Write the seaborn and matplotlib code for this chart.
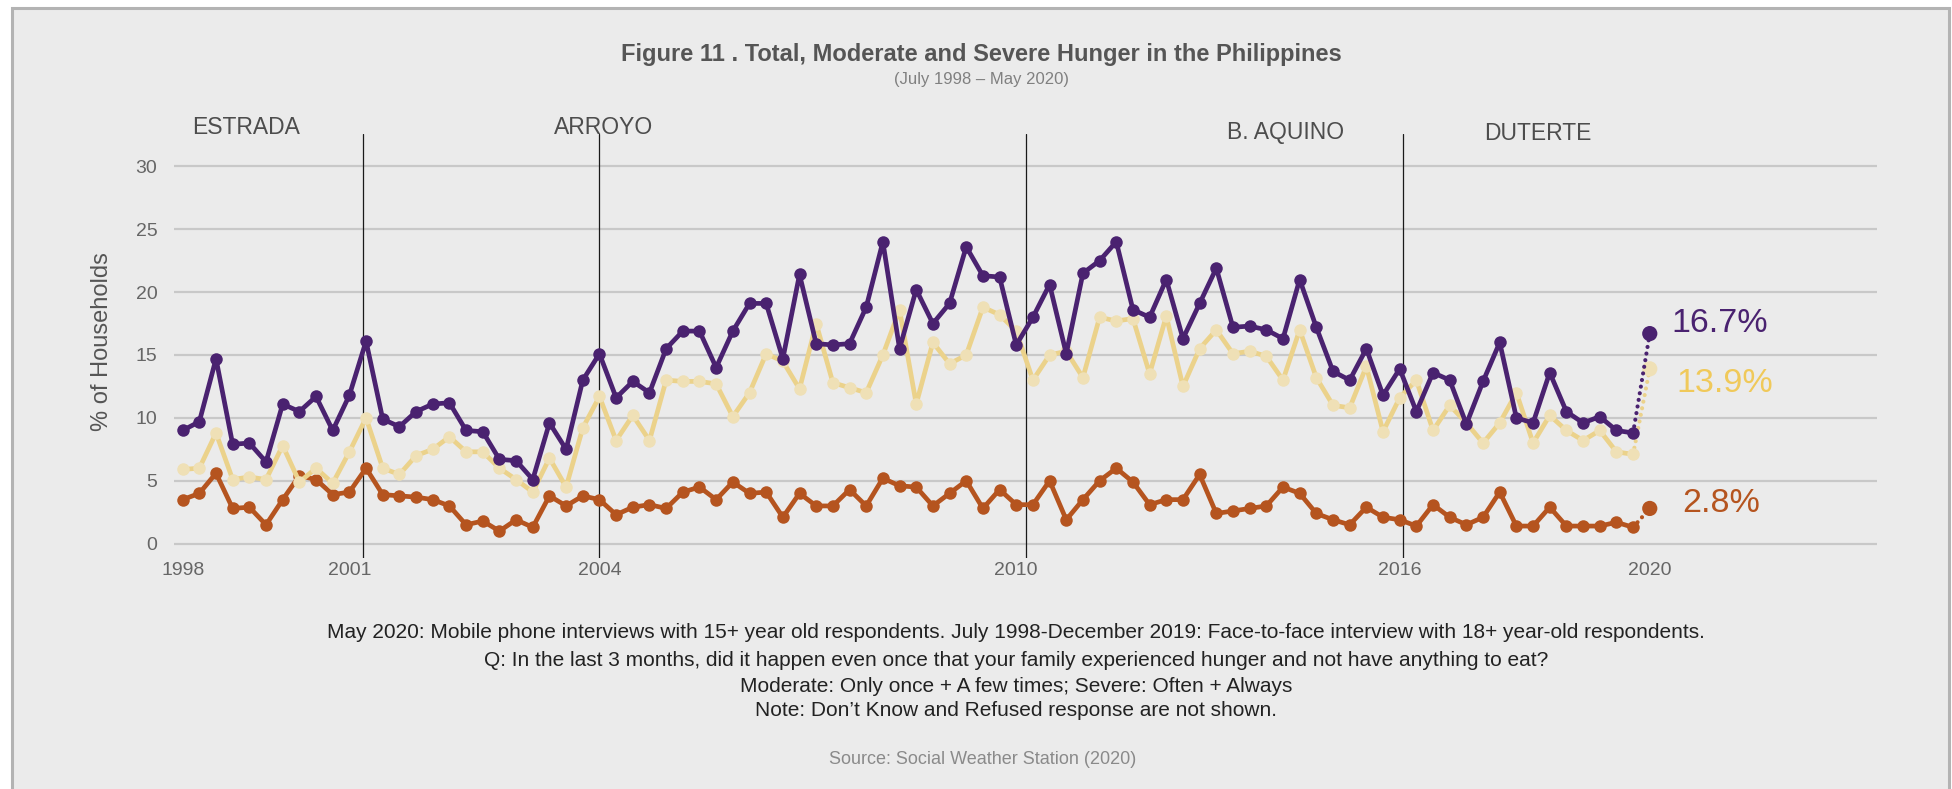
import numpy as np
import pandas as pd
import matplotlib
matplotlib.use("Agg")
import matplotlib.pyplot as plt
import seaborn as sns
from matplotlib.patches import Rectangle

# ---------------- data ----------------
total = [9.0, 9.7, 14.7, 7.9, 8.0, 6.5, 11.1, 10.5, 11.7, 9.0,
         11.8, 16.1, 9.9, 9.3, 10.5, 11.1, 11.2, 9.0, 8.9, 6.7,
         6.6, 5.1, 9.6, 7.5, 13.0, 15.1, 11.6, 12.9, 12.0, 15.5,
         16.9, 16.9, 14.0, 16.9, 19.1, 19.1, 14.7, 21.4, 15.9, 15.8,
         15.9, 18.8, 24.0, 15.5, 20.2, 17.5, 19.1, 23.6, 21.3, 21.2,
         15.8, 18.0, 20.6, 15.1, 21.5, 22.5, 24.0, 18.6, 18.0, 21.0,
         16.3, 19.1, 21.9, 17.2, 17.3, 17.0, 16.3, 21.0, 17.2, 13.7,
         13.0, 15.5, 11.8, 13.9, 10.5, 13.6, 13.0, 9.5, 12.9, 16.0,
         10.0, 9.6, 13.6, 10.5, 9.6, 10.1, 9.0, 8.8, 16.7]
moderate = [5.9, 6.0, 8.8, 5.1, 5.3, 5.1, 7.8, 4.9, 6.0, 4.8,
            7.3, 10.0, 6.0, 5.5, 7.0, 7.5, 8.5, 7.3, 7.3, 6.0,
            5.1, 4.1, 6.8, 4.5, 9.2, 11.7, 8.2, 10.2, 8.2, 13.0,
            12.9, 12.9, 12.7, 10.1, 12.0, 15.1, 14.5, 12.3, 17.5, 12.8,
            12.4, 12.0, 15.0, 18.6, 11.1, 16.0, 14.3, 15.0, 18.8, 18.2,
            16.9, 13.0, 15.0, 15.3, 13.2, 18.0, 17.7, 17.9, 13.5, 18.1,
            12.5, 15.5, 17.0, 15.1, 15.3, 14.9, 13.0, 17.0, 13.2, 11.0,
            10.8, 14.1, 8.9, 11.6, 13.0, 9.0, 11.0, 9.6, 8.0, 9.6,
            12.0, 8.0, 10.2, 9.0, 8.2, 9.0, 7.3, 7.1, 13.9]
severe = [3.5, 4.0, 5.6, 2.8, 2.9, 1.5, 3.5, 5.4, 5.1, 3.9,
          4.1, 6.0, 3.9, 3.8, 3.7, 3.5, 3.0, 1.5, 1.8, 1.0,
          1.9, 1.3, 3.8, 3.0, 3.8, 3.5, 2.3, 2.9, 3.1, 2.8,
          4.1, 4.5, 3.5, 4.9, 4.0, 4.1, 2.1, 4.0, 3.0, 3.0,
          4.3, 3.0, 5.2, 4.6, 4.5, 3.0, 4.0, 5.0, 2.8, 4.3,
          3.1, 3.1, 5.0, 1.9, 3.5, 5.0, 6.0, 4.9, 3.1, 3.5,
          3.5, 5.5, 2.4, 2.6, 2.8, 3.0, 4.5, 4.0, 2.4, 1.9,
          1.5, 2.9, 2.1, 1.9, 1.4, 3.1, 2.1, 1.5, 2.1, 4.1,
          1.4, 1.4, 2.9, 1.4, 1.4, 1.4, 1.7, 1.3, 2.8]
tick_labels = ["1998", "2001", "2004", "2010", "2016", "2020"]
tick_index = [0, 10, 25, 50, 73, 88]
term_starts = [10.8, 25, 50.6, 73.2]
presidents = ["ESTRADA", "ARROYO", "B. AQUINO", "DUTERTE"]
end_labels = ["16.7%", "13.9%", "2.8%"]

# ---------------- style ----------------
sns.set_theme(style="white")
plt.rcParams['font.family'] = ['Liberation Sans', 'DejaVu Sans']
NARROW = ['Liberation Sans Narrow', 'Liberation Sans', 'DejaVu Sans']

PURPLE = '#4a2270'
YLINE = '#ebd28b'
YMARK = '#efe0b6'
ORANGE = '#b5541f'
BG = '#ebebeb'

W, H = 1952, 789
def fx(px): return px / W
def fy(py): return 1 - py / H

fig = plt.figure(figsize=(W / 100, H / 100), dpi=100)
fig.patch.set_facecolor('white')
fig.patches.append(Rectangle((fx(12), fy(820)), fx(1949) - fx(12), fy(8) - fy(820),
                             transform=fig.transFigure, facecolor=BG,
                             edgecolor='#b3b3b3', linewidth=2.2, zorder=-5))

ax = fig.add_axes([fx(174), fy(557.5), fx(1877) - fx(174), fy(133.6) - fy(557.5)])
ax.set_facecolor('none')

df = pd.DataFrame({'idx': np.arange(len(total)), 'Total': total,
                   'Moderate': moderate, 'Severe': severe})
main = df.iloc[:-1]
tail = df.iloc[-2:]
last = df.iloc[[-1]]

series = [('Severe', ORANGE, ORANGE, 3), ('Moderate', YLINE, YMARK, 4), ('Total', PURPLE, PURPLE, 5)]
for col, lc, mc, z in series:
    sns.lineplot(data=main, x='idx', y=col, ax=ax, color=lc, linewidth=3.4,
                 marker='o', markersize=9, markerfacecolor=mc, markeredgecolor=mc,
                 markeredgewidth=0, zorder=z)
    sns.lineplot(data=tail, x='idx', y=col, ax=ax, color=lc, linewidth=3.0,
                 linestyle=(0, (0.01, 1.6)), dash_capstyle='round', zorder=z - 0.5)
    sns.scatterplot(data=last, x='idx', y=col, ax=ax, color=mc, s=120,
                    edgecolor='none', zorder=z)

for xv in term_starts:
    ax.axvline(xv, color='#1a1a1a', lw=0.9, zorder=2)

ax.set_xlim(-0.52, 101.63)
ax.set_ylim(-1.1, 32.6)
ax.set_yticks(range(0, 31, 5))
ax.set_xticks(tick_index)
ax.set_xticklabels(tick_labels)
ax.yaxis.grid(True, color='#c8c8c8', lw=1.6)
ax.xaxis.grid(False)
ax.set_axisbelow(True)
for s in ax.spines.values():
    s.set_visible(False)
ax.tick_params(axis='both', length=0, labelsize=14, labelcolor='#666666')
ax.tick_params(axis='y', pad=12)
ax.tick_params(axis='x', pad=3)
ax.set_xlabel('')
ax.set_ylabel('')

fig.text(fx(102), fy(342), '% of Households', rotation=90, ha='center', va='center',
         fontsize=17, color='#555555')

# president labels
pres_pos = [(192, 127), (554, 127), (1227, 133), (1484, 133)]
for name, (px, py) in zip(presidents, pres_pos):
    fig.text(fx(px), fy(py), name, ha='left', va='center', fontsize=16.5, color='#4d4d4d')

# end labels
end_pos = [(1671, 323, PURPLE), (1676, 383, '#f0c95a'), (1682, 504, ORANGE)]
for lab, (px, py, c) in zip(end_labels, end_pos):
    fig.text(fx(px), fy(py), lab, ha='left', va='center', fontsize=24.5, color=c)

# titles
fig.text(fx(981), fy(55), 'Figure 11 . Total, Moderate and Severe Hunger in the Philippines',
         ha='center', va='center', fontsize=17, fontweight='bold', color='#555555', family=NARROW)
fig.text(fx(981), fy(79.5), '(July 1998 \u2013 May 2020)', ha='center', va='center',
         fontsize=12, color='#808080', family=NARROW)

notes = ["May 2020: Mobile phone interviews with 15+ year old respondents. July 1998-December 2019: Face-to-face interview with 18+ year-old respondents.",
         "Q: In the last 3 months, did it happen even once that your family experienced hunger and not have anything to eat?",
         "Moderate: Only once + A few times; Severe: Often + Always",
         "Note: Don\u2019t Know and Refused response are not shown."]
for line, py in zip(notes, [632, 660, 686, 711]):
    fig.text(fx(1016), fy(py), line, ha='center', va='center', fontsize=15, color='#222222')

fig.text(fx(983), fy(760), 'Source: Social Weather Station (2020)', ha='center', va='center',
         fontsize=13, color='#8a8a8a', family=NARROW)

fig.savefig('out.png', dpi=100, facecolor='white')
